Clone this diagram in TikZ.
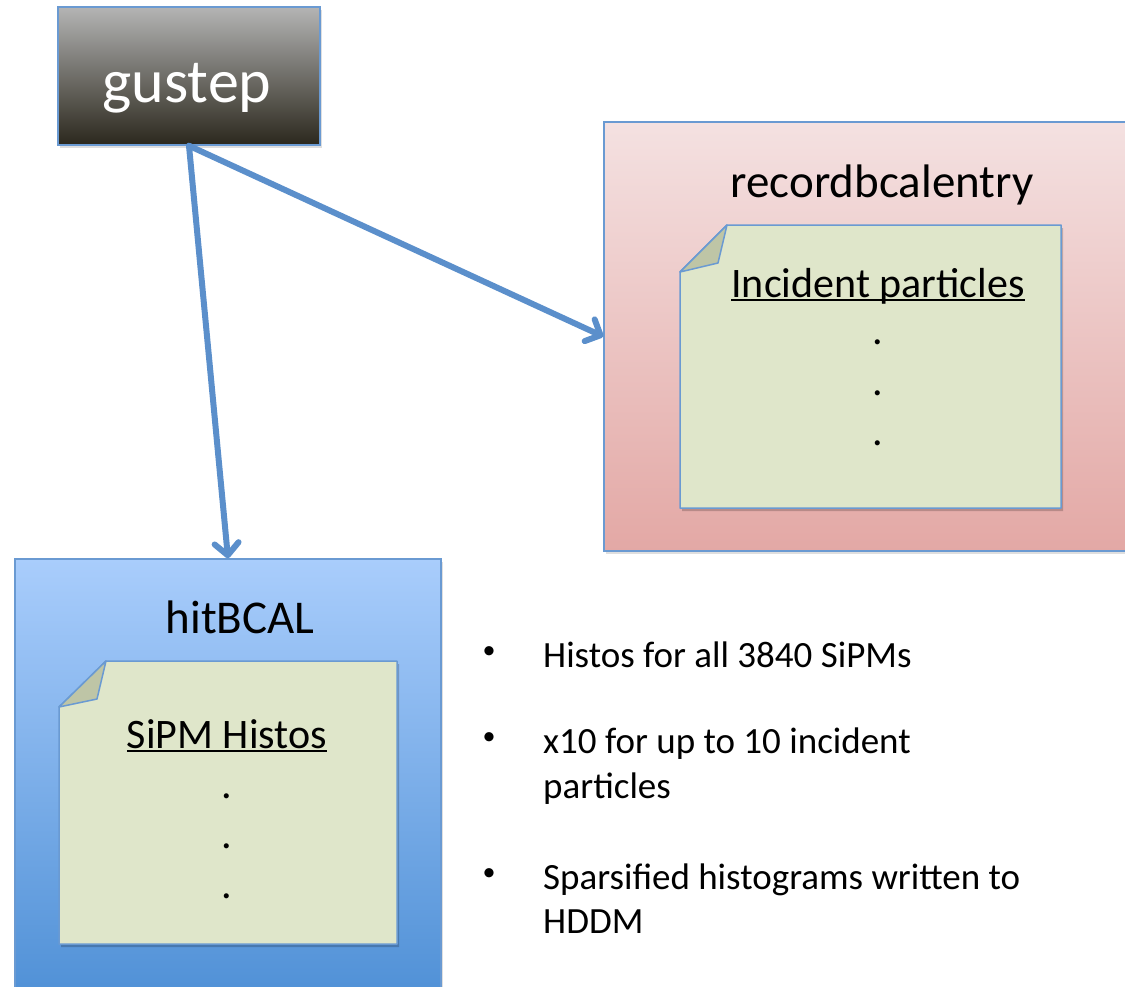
\documentclass[tikz,border=0pt]{standalone}
\usepackage{fontspec}
\setmainfont{Carlito}
\usetikzlibrary{arrows.meta,shadows}
\definecolor{edgec}{HTML}{6A9AD2}
\definecolor{arrowc}{HTML}{5B8FCB}
\definecolor{notefill}{HTML}{DFE6CA}
\definecolor{foldfill}{HTML}{BEC5A6}
\definecolor{gtop}{HTML}{B4B4B4}
\definecolor{gbot}{HTML}{2B281D}
\definecolor{rtop}{HTML}{F4E1E1}
\definecolor{rbot}{HTML}{E3A8A5}
\definecolor{htop}{HTML}{A9CDFC}
\definecolor{hbot}{HTML}{4F90D6}
\tikzset{
  boxstyle/.style={draw=edgec, line width=1.5pt, rectangle, inner sep=0pt,
    drop shadow={opacity=0.25, shadow xshift=2pt, shadow yshift=-3pt}},
  bigtext/.style={inner sep=0pt, font=\fontsize{47}{56}\selectfont},
  notetext/.style={inner sep=0pt, anchor=base, font=\fontsize{42}{50}\selectfont},
  bullettext/.style={inner sep=0pt, anchor=base west, font=\fontsize{37}{44}\selectfont},
  bulletdot/.style={inner sep=0pt, anchor=base, font=\fontsize{26}{30}\selectfont},
  conn/.style={draw=arrowc, line width=6pt, line cap=round,
    -{Straight Barb[length=12pt,width=24pt,line cap=round,line join=round]}},
  notestyle/.style={fill=notefill, draw=edgec, line width=1.5pt, line join=round},
  foldstyle/.style={fill=foldfill, draw=edgec, line width=1.5pt, line join=round},
  shadowstyle/.style={fill=black, opacity=0.2},
  ulstyle/.style={line width=2pt}
}
\begin{document}
\begin{tikzpicture}[x=1pt,y=-1pt]
\useasboundingbox (0,0) rectangle (1125,986);
\clip (0,0) rectangle (1125,986);

% gustep
\node[boxstyle, top color=gtop, bottom color=gbot, minimum width=262pt, minimum height=138pt] (gustep) at (189,76) {};
\node[inner sep=0pt, anchor=base, text=white, font=\fontsize{62}{74}\selectfont] (gusteplabel) at (187,102) {gustep};

% recordbcalentry container
\node[boxstyle, top color=rtop, bottom color=rbot, minimum width=530pt, minimum height=429pt] (rec) at (869,336.5) {};
\node[bigtext] (rectitle) at (882,185) {recordbcalentry};

% note in rec
\fill[shadowstyle] (729,228) -- (1063,228) -- (1063,511) -- (682,511) -- (682,275) -- cycle;
\draw[notestyle] (727,225) -- (1061,225) -- (1061,508) -- (680,508) -- (680,272) -- cycle;
\draw[foldstyle] (680,272) -- (718,263) -- (727,225) -- cycle;
\node[notetext] (inc) at (878,297) {Incident particles};
\draw[ulstyle] ([yshift=-3pt]inc.base west) -- ([yshift=-3pt]inc.base east);
\node[notetext] (rd1) at (878,344) {.};
\node[notetext] (rd2) at (878,395) {.};
\node[notetext] (rd3) at (878,445) {.};

% hitBCAL container
\node[boxstyle, top color=htop, bottom color=hbot, minimum width=426pt, minimum height=441pt] (hit) at (228,779.5) {};
\node[bigtext] (hittitle) at (240,617) {hitBCAL};

% note in hit
\fill[shadowstyle] (108,664) -- (399,664) -- (399,947) -- (61,947) -- (61,710) -- cycle;
\draw[notestyle] (106,661) -- (397,661) -- (397,944) -- (59,944) -- (59,707) -- cycle;
\draw[foldstyle] (59,707) -- (97,699) -- (106,661) -- cycle;
\node[notetext] (sipm) at (227,748) {SiPM Histos};
\draw[ulstyle] ([yshift=-3pt]sipm.base west) -- ([yshift=-3pt]sipm.base east);
\node[notetext] (hd1) at (227,798) {.};
\node[notetext] (hd2) at (227,848) {.};
\node[notetext] (hd3) at (227,898) {.};

% connectors
\draw[conn] (gustep.south) -- (hit.north);
\draw[conn] (gustep.south) -- (rec.west);

% bullets
\node[bulletdot] (b1) at (489,658) {•};
\node[bullettext] (t1) at (543,667) {Histos for all 3840 SiPMs};
\node[bulletdot] (b2) at (489,744) {•};
\node[bullettext] (t2) at (543,753) {x10 for up to 10 incident};
\node[bullettext] (t2b) at (543,798) {particles};
\node[bulletdot] (b3) at (489,880) {•};
\node[bullettext] (t3) at (543,889) {Sparsified histograms written to};
\node[bullettext] (t3b) at (543,933) {HDDM};
\end{tikzpicture}
\end{document}
